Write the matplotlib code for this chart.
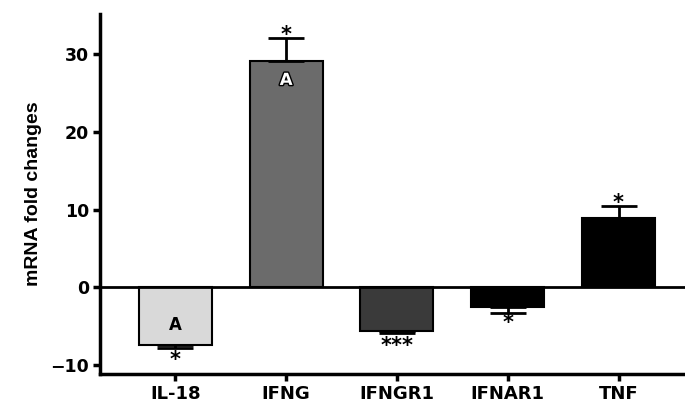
import matplotlib.pyplot as plt
import matplotlib.patheffects as pe
import numpy as np

genes = ['IL-18', 'IFNG', 'IFNGR1', 'IFNAR1', 'TNF']
fold = [-7.5, 29.2, -5.6, -2.6, 8.85]
sem = [0.35, 2.9, 0.3, 0.75, 1.55]
colors = ['#d9d9d9', '#6b6b6b', '#3a3a3a', '#000000', '#000000']
stars = ['*', '*', '***', '*', '*']
star_y = [-8.85, 33.0, -7.05, -4.2, 11.3]   # centre of the star marks
letters = ['A', 'A', '', '', '']
letter_y = [-4.9, 26.7, 0, 0, 0]

x = np.arange(len(genes))
fold = np.array(fold)
sem = np.array(sem)
# one-sided error bars, pointing away from zero
lower = np.where(fold < 0, sem, 0)
upper = np.where(fold > 0, sem, 0)

fig = plt.figure(figsize=(6.85, 4.05), dpi=100)
ax = fig.add_axes([0.146, 0.0765, 0.854, 0.889])

ax.bar(x, fold, width=0.66, color=colors, edgecolor='black', linewidth=1.5, zorder=2)
ax.errorbar(x, fold, yerr=[lower, upper], fmt='none', ecolor='black',
            elinewidth=2, capsize=13, capthick=2, zorder=3)
ax.axhline(0, color='black', lw=2, zorder=4)

# significance stars (baseline placed so the glyph centre sits on star_y)
fs = 15
shift = 0.47 * fs * 100 / 72 / (405 * 0.889 / (35.2 + 11.2))
for i in range(len(genes)):
    ax.text(x[i], star_y[i] - shift, stars[i], ha='center', va='baseline',
            fontsize=fs, fontweight='bold', family='DejaVu Sans')

ax.text(x[0], letter_y[0], letters[0], ha='center', va='center', fontsize=12,
        fontweight='bold', family='DejaVu Sans', color='black')
ax.text(x[1], letter_y[1], letters[1], ha='center', va='center', fontsize=12,
        fontweight='bold', family='DejaVu Sans', color='white',
        path_effects=[pe.withStroke(linewidth=2, foreground='black')])

ax.set_xlim(-0.68, 4.6)
ax.set_ylim(-11.2, 35.2)
ax.set_yticks([-10, 0, 10, 20, 30])
ax.set_yticklabels(['\u221210', '0', '10', '20', '30'])
ax.set_xticks(x)
ax.set_xticklabels(genes)

for lab in ax.get_yticklabels():
    lab.set_family('DejaVu Sans')
    lab.set_fontweight('bold')
    lab.set_fontsize(12.5)
for lab in ax.get_xticklabels():
    lab.set_family('DejaVu Sans')
    lab.set_fontweight('bold')
    lab.set_fontsize(13)

ax.set_ylabel('mRNA fold changes', family='Liberation Sans',
              fontweight='bold', fontsize=14, labelpad=6)

ax.spines['top'].set_visible(False)
ax.spines['right'].set_visible(False)
ax.spines['left'].set_linewidth(2.5)
ax.spines['bottom'].set_linewidth(2.5)
ax.tick_params(axis='both', width=2.5, length=5, direction='out', pad=3)

fig.savefig('out.png', dpi=100)
